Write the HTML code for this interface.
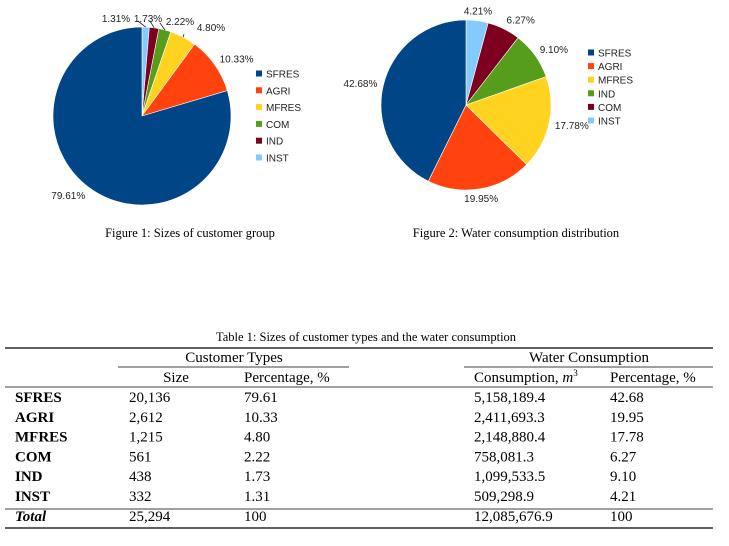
<!DOCTYPE html>
<html><head><meta charset="utf-8">
<style>
body{margin:0;background:#fff;width:729px;height:546px;overflow:hidden}
svg{display:block}
.lbl{font-family:"Liberation Sans",sans-serif;font-size:10px;fill:#222}
.cap{font-family:"Liberation Serif",serif;font-size:12.5px;fill:#000}
.t{font-family:"Liberation Serif",serif;font-size:15px;fill:#000}
.b{font-weight:bold}
</style></head><body>
<svg id="root" width="729" height="546">
<g id="pie1"></g>
<g id="pie2"></g>
<text class="cap" x="190" y="237" text-anchor="middle">Figure 1: Sizes of customer group</text>
<text class="cap" x="516" y="237" text-anchor="middle">Figure 2: Water consumption distribution</text>
<g id="table">
<text class="cap" x="366" y="341" text-anchor="middle">Table 1: Sizes of customer types and the water consumption</text>
<line x1="5" y1="348" x2="713" y2="348" stroke="#000" stroke-width="1.2"/>
<line x1="118" y1="367" x2="349" y2="367" stroke="#000" stroke-width="0.8"/>
<line x1="464" y1="367" x2="713" y2="367" stroke="#000" stroke-width="0.8"/>
<line x1="5" y1="387" x2="713" y2="387" stroke="#000" stroke-width="0.8"/>
<line x1="5" y1="509" x2="713" y2="509" stroke="#000" stroke-width="0.8"/>
<line x1="5" y1="528" x2="713" y2="528" stroke="#000" stroke-width="1.2"/>
<text class="t" x="234" y="362" text-anchor="middle">Customer Types</text>
<text class="t" x="589" y="362" text-anchor="middle">Water Consumption</text>
<text class="t" x="176" y="382" text-anchor="middle">Size</text>
<text class="t" x="244" y="382">Percentage, %</text>
<text class="t" x="474" y="382">Consumption, <tspan font-style="italic">m</tspan><tspan font-size="9" dy="-6">3</tspan></text>
<text class="t" x="610" y="382">Percentage, %</text>
</g>
</svg>
<script>
const NS="http://www.w3.org/2000/svg";
const categories=["SFRES","AGRI","MFRES","COM","IND","INST"];
const sizeValues=[79.61,10.33,4.80,2.22,1.73,1.31];
const sizeCounts=["20,136","2,612","1,215","561","438","332"];
const waterValues=[42.68,19.95,17.78,6.27,9.10,4.21];
const waterAmounts=["5,158,189.4","2,411,693.3","2,148,880.4","758,081.3","1,099,533.5","509,298.9"];
const totals=["25,294","100","12,085,676.9","100"];
const sizeLegend=["SFRES","AGRI","MFRES","COM","IND","INST"];
const waterLegend=["SFRES","AGRI","MFRES","IND","COM","INST"];
const palette=["#004586","#ff420e","#ffd320","#579d1c","#7e0021","#83caff"];

function el(tag,attrs,parent){const e=document.createElementNS(NS,tag);for(const k in attrs)e.setAttribute(k,attrs[k]);parent.appendChild(e);return e;}

function drawPie(g,cx,cy,r,vals,legendOrder,lx,ly,lstep,nudge){
  const valOf=c=>vals[categories.indexOf(c)];
  const total=legendOrder.reduce((a,c)=>a+valOf(c),0);
  let acc=0;
  for(let k=legendOrder.length-1;k>=0;k--){
    const c=legendOrder[k];const v=valOf(c);
    const a0=acc/total*2*Math.PI;acc+=v;const a1=acc/total*2*Math.PI;
    const p=a=>[cx+r*Math.sin(a),cy-r*Math.cos(a)];
    const [x0,y0]=p(a0),[x1,y1]=p(a1);
    const large=(a1-a0)>Math.PI?1:0;
    const s=el("path",{d:`M${cx},${cy}L${x0},${y0}A${r},${r} 0 ${large} 1 ${x1},${y1}Z`,fill:palette[k],stroke:"#fff","stroke-width":"0.6"},g);
    
    
    const am=(a0+a1)/2;const sn=Math.sin(am),cs=Math.cos(am);
    let tx=cx+(r+6)*sn,ty=cy-(r+6)*cs+3.5-cs*4;
    let anchor=Math.abs(sn)<0.25?"middle":(sn>0?"start":"end");
    const n=nudge&&nudge[c];
    if(n){
      const ex=cx+r*sn,ey=cy-r*cs;
      const ln=el("line",{x1:ex,y1:ey,x2:n[0],y2:n[1],stroke:"#222","stroke-width":"0.8"},g);
      
      
      tx=n[2];ty=n[3];anchor="middle";
    }
    const t=el("text",{x:tx,y:ty,"text-anchor":anchor,class:"lbl"},g);
    t.textContent=v.toFixed(2)+"%";
    
    
  }
  legendOrder.forEach((c,k)=>{
    const y=ly+k*lstep;
    const sq=el("rect",{x:lx,y:y-3.5,width:6,height:6,fill:palette[k]},g);
    
    
    const t=el("text",{x:lx+10,y:y+3.5,class:"lbl"},g);
    t.textContent=c;
    
    
  });
}
const nudge1={INST:[138,21,116,22],IND:[150,21,148,22],COM:[160,23,180,25],MFRES:[184,34,211,31]};
drawPie(document.getElementById("pie1"),142,116,89,sizeValues,sizeLegend,256,74,16.8,nudge1);
drawPie(document.getElementById("pie2"),466,105,85,waterValues,waterLegend,588,53,13.6,null);

const tg=document.getElementById("table");
function txt(x,y,s,cls,name){const t=el("text",{x:x,y:y,class:cls},tg);t.textContent=s;return t;}
categories.forEach((c,i)=>{
  const y=402+i*19.8;
  txt(15,y,c,"t b","row-label-"+c.toLowerCase());
  txt(129,y,sizeCounts[i],"t","size-"+c.toLowerCase());
  txt(244,y,sizeValues[i].toFixed(2),"t","size-pct-"+c.toLowerCase());
  txt(474,y,waterAmounts[i],"t","consumption-"+c.toLowerCase());
  txt(610,y,waterValues[i].toFixed(2),"t","consumption-pct-"+c.toLowerCase());
});
const ty=402+6*19.8;
const tl=txt(15,ty,"Total","t b","row-label-total");tl.setAttribute("font-style","italic");
txt(129,ty,totals[0],"t","size-total");
txt(244,ty,totals[1],"t","size-pct-total");
txt(474,ty,totals[2],"t","consumption-total");
txt(610,ty,totals[3],"t","consumption-pct-total");
</script>
</body></html>
